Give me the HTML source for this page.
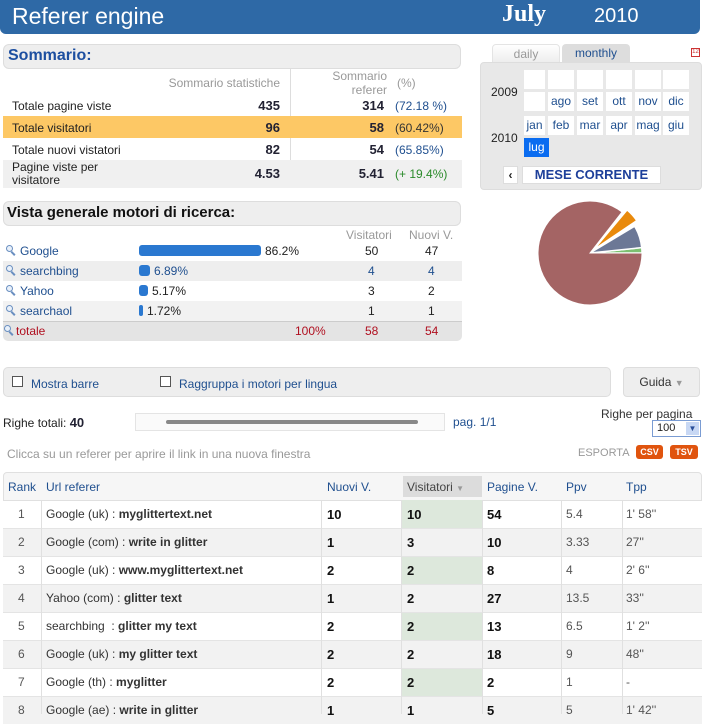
<!DOCTYPE html>
<html><head><meta charset="utf-8"><style>
*{margin:0;padding:0;box-sizing:border-box}
body{width:703px;height:714px;overflow:hidden;background:#fff;font-family:"Liberation Sans",sans-serif;font-size:12px;color:#222;position:relative}
.a{position:absolute;white-space:nowrap}
.blue{color:#1f4f8f}
.r{text-align:right}
.b{font-weight:bold}
.cell{position:absolute;background:#fff;color:#1f4f8f;font-size:12px;text-align:center;line-height:19px;height:19px}
.mg{position:absolute;width:7px;height:7px;border:1.5px solid #6a8fc0;border-radius:50%;background:#e8f0fa}
.mg:after{content:"";position:absolute;left:5px;top:5px;width:5px;height:2px;background:#6a8fc0;transform:rotate(45deg);transform-origin:0 0}
</style></head><body>
<!-- header -->
<div class="a" style="left:0;top:0;width:700px;height:34px;background:#2e69a6;border-radius:0 0 6px 6px"></div>
<div class="a" style="left:12px;top:3px;color:#fff;font-size:23px">Referer engine</div>
<div class="a" style="left:502px;top:1px;color:#fff;font-size:24px;font-weight:bold;font-family:'Liberation Serif',serif">July</div>
<div class="a" style="left:594px;top:5px;color:#fff;font-size:20px">2010</div>

<!-- sommario -->
<div class="a" style="left:3px;top:44px;width:458px;height:25px;background:#eee;border:1px solid #ddd;border-radius:6px"></div>
<div class="a b" style="left:8px;top:47px;color:#1d4fa0;font-size:16px">Sommario:</div>
<div class="a" style="left:290px;top:69px;width:1px;height:119px;background:#ddd"></div>
<div class="a" style="left:3px;top:116px;width:459px;height:22px;background:#fdc865"></div>
<div class="a" style="left:3px;top:160px;width:459px;height:28px;background:#f0f0f0"></div>
<div class="a r" style="left:100px;top:76px;width:180px;color:#999">Sommario statistiche</div>
<div class="a r" style="left:300px;top:69px;width:87px;color:#999;white-space:normal;line-height:14px">Sommario referer</div>
<div class="a" style="left:397px;top:76px;color:#999">(%)</div>
<div class="a" style="left:12px;top:99px">Totale pagine viste</div>
<div class="a" style="left:12px;top:121px">Totale visitatori</div>
<div class="a" style="left:12px;top:143px">Totale nuovi vistatori</div>
<div class="a" style="left:12px;top:161px;line-height:13px">Pagine viste per<br>visitatore</div>
<div class="a r b" style="left:200px;top:98px;width:80px;font-size:13px;color:#223">435</div>
<div class="a r b" style="left:200px;top:120px;width:80px;font-size:13px;color:#223">96</div>
<div class="a r b" style="left:200px;top:142px;width:80px;font-size:13px;color:#223">82</div>
<div class="a r b" style="left:200px;top:166px;width:80px;font-size:13px;color:#223">4.53</div>
<div class="a r b" style="left:300px;top:98px;width:84px;font-size:13px;color:#223">314</div>
<div class="a r b" style="left:300px;top:120px;width:84px;font-size:13px;color:#223">58</div>
<div class="a r b" style="left:300px;top:142px;width:84px;font-size:13px;color:#223">54</div>
<div class="a r b" style="left:300px;top:166px;width:84px;font-size:13px;color:#223">5.41</div>
<div class="a blue" style="left:395px;top:99px">(72.18 %)</div>
<div class="a" style="left:395px;top:121px;color:#333">(60.42%)</div>
<div class="a blue" style="left:395px;top:143px">(65.85%)</div>
<div class="a" style="left:395px;top:167px;color:#2a8a2a">(+ 19.4%)</div>

<!-- vista -->
<div class="a" style="left:3px;top:201px;width:458px;height:25px;background:#eee;border:1px solid #ddd;border-radius:6px"></div>
<div class="a b" style="left:7px;top:204px;color:#111;font-size:15px">Vista generale motori di ricerca:</div>
<div class="a" style="left:346px;top:228px;color:#999">Visitatori</div>
<div class="a" style="left:409px;top:228px;color:#999">Nuovi V.</div>
<div class="a" style="left:3px;top:261px;width:459px;height:20px;background:#eee"></div>
<div class="a" style="left:3px;top:301px;width:459px;height:20px;background:#f2f2f2"></div>
<div class="a" style="left:3px;top:321px;width:459px;height:20px;background:#e4e4e4;border-top:1px solid #ccc;border-radius:0 0 5px 5px"></div>
<div class="mg" style="left:6px;top:245px"></div>
<div class="a blue" style="left:20px;top:244px">Google</div>
<div class="mg" style="left:6px;top:265px"></div>
<div class="a blue" style="left:20px;top:264px">searchbing</div>
<div class="mg" style="left:6px;top:285px"></div>
<div class="a blue" style="left:20px;top:284px">Yahoo</div>
<div class="mg" style="left:6px;top:305px"></div>
<div class="a blue" style="left:20px;top:304px">searchaol</div>
<div class="mg" style="left:4px;top:325px"></div>
<div class="a" style="left:16px;top:324px;color:#b01020">totale</div>
<div class="a" style="left:139px;top:245px;width:122px;height:11px;background:#2a78d0;border-radius:3px"></div>
<div class="a" style="left:139px;top:265px;width:11px;height:11px;background:#2a78d0;border-radius:3px"></div>
<div class="a" style="left:139px;top:285px;width:9px;height:11px;background:#2a78d0;border-radius:3px"></div>
<div class="a" style="left:139px;top:305px;width:4px;height:11px;background:#2a78d0;border-radius:2px"></div>
<div class="a" style="left:265px;top:244px">86.2%</div>
<div class="a blue" style="left:154px;top:264px">6.89%</div>
<div class="a" style="left:152px;top:284px">5.17%</div>
<div class="a" style="left:147px;top:304px">1.72%</div>
<div class="a" style="left:295px;top:324px;color:#b01020">100%</div>
<div class="a" style="left:365px;top:244px">50</div>
<div class="a blue" style="left:368px;top:264px">4</div>
<div class="a" style="left:368px;top:284px">3</div>
<div class="a" style="left:368px;top:304px">1</div>
<div class="a" style="left:365px;top:324px;color:#b01020">58</div>
<div class="a" style="left:425px;top:244px">47</div>
<div class="a blue" style="left:428px;top:264px">4</div>
<div class="a" style="left:428px;top:284px">2</div>
<div class="a" style="left:428px;top:304px">1</div>
<div class="a" style="left:425px;top:324px;color:#b01020">54</div>

<!-- calendar -->
<div class="a" style="left:492px;top:44px;width:68px;height:19px;background:linear-gradient(#fff,#eee);border:1px solid #e4e4e4;border-radius:4px 4px 0 0;color:#999;text-align:center;line-height:18px">daily</div>
<div class="a" style="left:562px;top:44px;width:68px;height:19px;background:#ddd;border-radius:4px 4px 0 0;color:#1f4f8f;text-align:center;line-height:19px">monthly</div>
<div class="a" style="left:691px;top:48px;width:9px;height:9px;border:1px solid #c33;font-size:6px;color:#c33;text-align:center;line-height:7px">12</div>
<div class="a" style="left:480px;top:62px;width:222px;height:128px;background:#e8e8e8;border:1px solid #ddd;border-radius:4px"></div>
<div class="a" style="left:491px;top:85px">2009</div>
<div class="a" style="left:491px;top:131px">2010</div>
<div class="cell" style="left:524px;top:70px;width:21px"></div>
<div class="cell" style="left:548px;top:70px;width:26px"></div>
<div class="cell" style="left:577px;top:70px;width:26px"></div>
<div class="cell" style="left:606px;top:70px;width:26px"></div>
<div class="cell" style="left:635px;top:70px;width:26px"></div>
<div class="cell" style="left:663px;top:70px;width:26px"></div>
<div class="cell" style="left:524px;top:92px;width:21px"></div>
<div class="cell" style="left:548px;top:92px;width:26px">ago</div>
<div class="cell" style="left:577px;top:92px;width:26px">set</div>
<div class="cell" style="left:606px;top:92px;width:26px">ott</div>
<div class="cell" style="left:635px;top:92px;width:26px">nov</div>
<div class="cell" style="left:663px;top:92px;width:26px">dic</div>
<div class="cell" style="left:524px;top:116px;width:21px">jan</div>
<div class="cell" style="left:548px;top:116px;width:26px">feb</div>
<div class="cell" style="left:577px;top:116px;width:26px">mar</div>
<div class="cell" style="left:606px;top:116px;width:26px">apr</div>
<div class="cell" style="left:635px;top:116px;width:26px">mag</div>
<div class="cell" style="left:663px;top:116px;width:26px">giu</div>
<div class="cell" style="left:524px;top:138px;width:25px;background:#0a6cf0;color:#fff">lug</div>
<div class="a" style="left:503px;top:166px;width:15px;height:18px;background:#fff;border:1px solid #ddd;text-align:center;line-height:16px;font-weight:bold">&lsaquo;</div>
<div class="a b" style="left:522px;top:166px;width:139px;height:18px;background:#fff;border:1px solid #ddd;text-align:center;line-height:16px;color:#1d3f9a;font-size:13px">MESE CORRENTE</div>
<svg class="a" style="left:0;top:0" width="703" height="714">
<path d="M590,253 L642,253 A52,52 0 0 0 641.7,247.6 Z" fill="#7cc070" stroke="#fff" stroke-width="1.5"/>
<path d="M590,253 L641.7,247.6 A52,52 0 0 0 634.6,226.2 Z" fill="#6c7896" stroke="#fff" stroke-width="1.5"/>
<path d="M593.7,249.7 L636.8,220.6 A52,52 0 0 0 627.1,209.9 Z" fill="#e98a0c" stroke="#fff" stroke-width="1.5"/>
<path d="M590,253 L622,212 A52,52 0 1 0 642,253 Z" fill="#a46464" stroke="#fff" stroke-width="1"/>
</svg>

<!-- toolbar -->
<div class="a" style="left:3px;top:367px;width:608px;height:30px;background:#eee;border:1px solid #ddd;border-radius:5px"></div>
<div class="a" style="left:12px;top:376px;width:11px;height:11px;border:1px solid #555;background:#fff"></div>
<div class="a blue" style="left:31px;top:377px">Mostra barre</div>
<div class="a" style="left:160px;top:376px;width:11px;height:11px;border:1px solid #555;background:#fff"></div>
<div class="a blue" style="left:179px;top:377px">Raggruppa i motori per lingua</div>
<div class="a" style="left:623px;top:367px;width:77px;height:30px;background:#eee;border:1px solid #ddd;border-radius:4px;text-align:center;line-height:28px;color:#333">Guida <span style="color:#999;font-size:9px">&#9660;</span></div>

<div class="a" style="left:3px;top:415px">Righe totali: <b style="color:#223;font-size:13px">40</b></div>
<div class="a" style="left:135px;top:413px;width:310px;height:18px;border:1px solid #e4e4e4;background:#fafafa"></div>
<div class="a" style="left:166px;top:420px;width:252px;height:4px;background:#888;border-radius:2px"></div>
<div class="a blue" style="left:453px;top:415px">pag. 1/1</div>
<div class="a" style="left:601px;top:407px;color:#333">Righe per pagina</div>
<div class="a" style="left:652px;top:420px;width:49px;height:17px;border:1px solid #7a9cd3;background:#fff;font-size:11px;line-height:15px;padding-left:4px">100<span style="position:absolute;right:1px;top:1px;width:13px;height:13px;background:#c8d8f4;color:#2a4f9a;font-size:8px;text-align:center;line-height:13px">&#9660;</span></div>
<div class="a" style="left:7px;top:447px;color:#999">Clicca su un referer per aprire il link in una nuova finestra</div>
<div class="a" style="left:578px;top:447px;color:#999;font-size:11px">ESPORTA</div>
<div class="a b" style="left:636px;top:445px;width:27px;height:14px;background:#e0540e;border-radius:3px;color:#fff;font-size:9px;text-align:center;line-height:14px">CSV</div>
<div class="a b" style="left:670px;top:445px;width:28px;height:14px;background:#e0540e;border-radius:3px;color:#fff;font-size:9px;text-align:center;line-height:14px">TSV</div>

<!-- table -->
<div class="a" style="left:3px;top:472px;width:699px;height:29px;background:#f6f6f6;border:1px solid #e0e0e0;border-radius:4px 4px 0 0"></div>
<div class="a" style="left:403px;top:476px;width:79px;height:21px;background:#dcdcdc"></div>
<div class="a blue" style="left:8px;top:480px">Rank</div>
<div class="a blue" style="left:46px;top:480px">Url referer</div>
<div class="a blue" style="left:327px;top:480px">Nuovi V.</div>
<div class="a" style="left:407px;top:480px;color:#444">Visitatori <span style="color:#999;font-size:8px">&#9660;</span></div>
<div class="a blue" style="left:487px;top:480px">Pagine V.</div>
<div class="a blue" style="left:566px;top:480px">Ppv</div>
<div class="a blue" style="left:626px;top:480px">Tpp</div>
<div class="a" style="left:3px;top:528px;width:699px;height:28px;background:#f2f2f2"></div>
<div class="a" style="left:3px;top:584px;width:699px;height:28px;background:#f2f2f2"></div>
<div class="a" style="left:3px;top:640px;width:699px;height:28px;background:#f2f2f2"></div>
<div class="a" style="left:3px;top:696px;width:699px;height:28px;background:#f2f2f2"></div>
<div class="a" style="left:401px;top:500px;width:81px;height:28px;background:#dde8dc"></div>
<div class="a" style="left:401px;top:556px;width:81px;height:28px;background:#dde8dc"></div>
<div class="a" style="left:401px;top:612px;width:81px;height:28px;background:#dde8dc"></div>
<div class="a" style="left:401px;top:668px;width:81px;height:28px;background:#dde8dc"></div>
<div class="a" style="left:3px;top:528px;width:699px;height:1px;background:#e4e4e4"></div>
<div class="a" style="left:3px;top:556px;width:699px;height:1px;background:#e4e4e4"></div>
<div class="a" style="left:3px;top:584px;width:699px;height:1px;background:#e4e4e4"></div>
<div class="a" style="left:3px;top:612px;width:699px;height:1px;background:#e4e4e4"></div>
<div class="a" style="left:3px;top:640px;width:699px;height:1px;background:#e4e4e4"></div>
<div class="a" style="left:3px;top:668px;width:699px;height:1px;background:#e4e4e4"></div>
<div class="a" style="left:3px;top:696px;width:699px;height:1px;background:#e4e4e4"></div>
<div class="a" style="left:41px;top:500px;width:1px;height:214px;background:#e0e0e0"></div>
<div class="a" style="left:321px;top:500px;width:1px;height:214px;background:#e0e0e0"></div>
<div class="a" style="left:401px;top:500px;width:1px;height:214px;background:#e0e0e0"></div>
<div class="a" style="left:482px;top:500px;width:1px;height:214px;background:#e0e0e0"></div>
<div class="a" style="left:561px;top:500px;width:1px;height:214px;background:#e0e0e0"></div>
<div class="a" style="left:622px;top:500px;width:1px;height:214px;background:#e0e0e0"></div>

<div style="position:absolute;left:0;top:500px;width:703px;font-size:12px;color:#333">
<style>.row{position:relative;height:28px}.row>div{position:absolute;top:7px;white-space:nowrap}.row .n{left:18px;color:#555}.row .u{left:46px}.row .c1{left:327px;font-weight:bold;font-size:13px;color:#111}.row .c2{left:407px;font-weight:bold;font-size:13px;color:#111}.row .c3{left:487px;font-weight:bold;font-size:13px;color:#111}.row .c4{left:566px;color:#555}.row .c5{left:626px;color:#555}</style>
<div class="row"><div class="n">1</div><div class="u">Google (uk) : <b>myglittertext.net</b></div><div class="c1">10</div><div class="c2">10</div><div class="c3">54</div><div class="c4">5.4</div><div class="c5">1' 58''</div></div>
<div class="row"><div class="n">2</div><div class="u">Google (com) : <b>write in glitter</b></div><div class="c1">1</div><div class="c2">3</div><div class="c3">10</div><div class="c4">3.33</div><div class="c5">27''</div></div>
<div class="row"><div class="n">3</div><div class="u">Google (uk) : <b>www.myglittertext.net</b></div><div class="c1">2</div><div class="c2">2</div><div class="c3">8</div><div class="c4">4</div><div class="c5">2' 6''</div></div>
<div class="row"><div class="n">4</div><div class="u">Yahoo (com) : <b>glitter text</b></div><div class="c1">1</div><div class="c2">2</div><div class="c3">27</div><div class="c4">13.5</div><div class="c5">33''</div></div>
<div class="row"><div class="n">5</div><div class="u">searchbing &nbsp;: <b>glitter my text</b></div><div class="c1">2</div><div class="c2">2</div><div class="c3">13</div><div class="c4">6.5</div><div class="c5">1' 2''</div></div>
<div class="row"><div class="n">6</div><div class="u">Google (uk) : <b>my glitter text</b></div><div class="c1">2</div><div class="c2">2</div><div class="c3">18</div><div class="c4">9</div><div class="c5">48''</div></div>
<div class="row"><div class="n">7</div><div class="u">Google (th) : <b>myglitter</b></div><div class="c1">2</div><div class="c2">2</div><div class="c3">2</div><div class="c4">1</div><div class="c5">-</div></div>
<div class="row"><div class="n">8</div><div class="u">Google (ae) : <b>write in glitter</b></div><div class="c1">1</div><div class="c2">1</div><div class="c3">5</div><div class="c4">5</div><div class="c5">1' 42''</div></div>
</div>
</body></html>
